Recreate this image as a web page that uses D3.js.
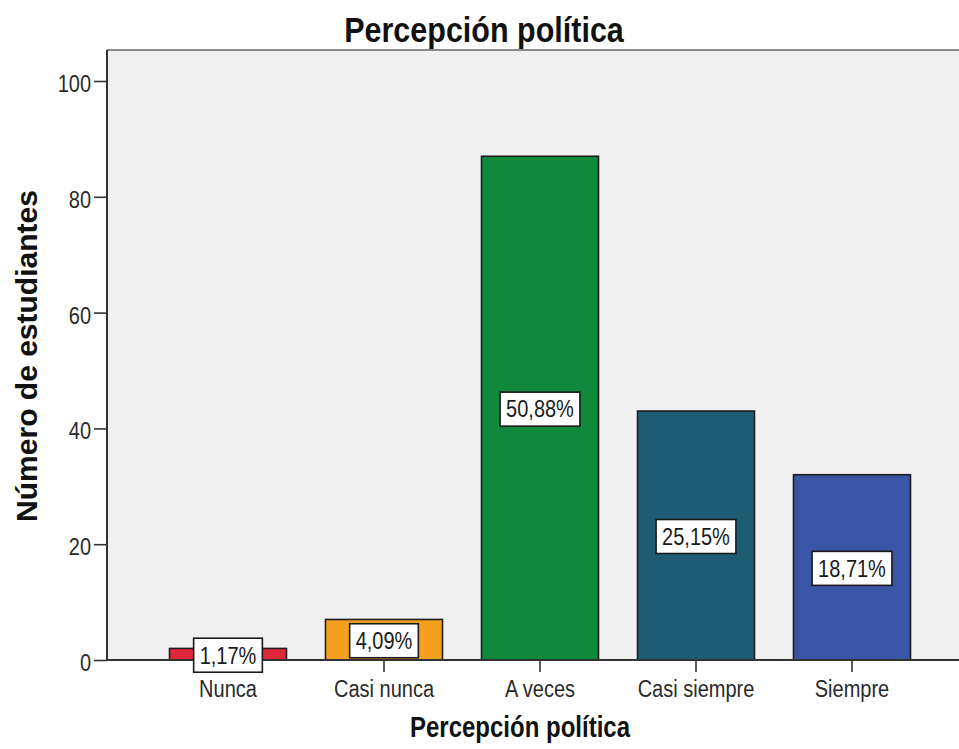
<!DOCTYPE html>
<html>
<head>
<meta charset="utf-8">
<script src="https://cdn.jsdelivr.net/npm/d3@7"></script>
<style>
  html, body { margin: 0; padding: 0; background: #ffffff; }
  svg { display: block; }
</style>
</head>
<body>
<svg id="chart" width="959" height="749"></svg>
<script>
const categories = ["Nunca", "Casi nunca", "A veces", "Casi siempre", "Siempre"];
const counts = [2, 7, 87, 43, 32];
const percentLabels = ["1,17%", "4,09%", "50,88%", "25,15%", "18,71%"];
const barColors = ["#e0283c", "#f5a01f", "#10893d", "#1c5d74", "#3a54a6"];
const yTicks = [0, 20, 40, 60, 80, 100];
const titleText = "Percepción política";
const xTitleText = "Percepción política";
const yTitleText = "Número de estudiantes";

const svg = d3.select("#chart");
const W = 959, H = 749;
const plot = { left: 107, right: 959, top: 50, bottom: 660 };
const SY = 1.15; // vertical stretch of text in the reference
const FONT = "'Liberation Sans', Arial, sans-serif";

const x = d3.scaleBand()
  .domain(categories)
  .range([150, 930])
  .paddingInner(0.25)
  .paddingOuter(0.125);

const y = d3.scaleLinear()
  .domain([0, 100])
  .range([plot.bottom, 81]);

// plot background
svg.append("rect")
  .attr("x", plot.left).attr("y", plot.top)
  .attr("width", plot.right - plot.left + 5)
  .attr("height", plot.bottom - plot.top)
  .attr("fill", "#f0f0f0");

// top frame line
svg.append("line")
  .attr("x1", plot.left).attr("x2", W + 5)
  .attr("y1", plot.top).attr("y2", plot.top)
  .attr("stroke", "#8a8a8a").attr("stroke-width", 2);

function stretchedText(g, tx, ty, str, opts) {
  const t = g.append("text")
    .attr("transform", `translate(${tx},${ty}) scale(1,${opts.sy || SY})`)
    .attr("font-family", FONT)
    .attr("font-size", opts.size)
    .attr("font-weight", opts.weight || "normal")
    .attr("text-anchor", opts.anchor || "middle")
    .attr("fill", opts.fill || "#222")
    .text(str);
  return t;
}

// bars
const bars = svg.append("g");
bars.selectAll("rect")
  .data(counts)
  .join("rect")
  .attr("x", (d, i) => x(categories[i]))
  .attr("y", d => y(d))
  .attr("width", x.bandwidth())
  .attr("height", d => y(0) - y(d))
  .attr("fill", (d, i) => barColors[i])
  .attr("stroke", "#1e1e1e")
  .attr("stroke-width", 1.6);

// y axis
const yAxis = d3.axisLeft(y).tickValues(yTicks).tickSize(13).tickFormat("");
const yg = svg.append("g").attr("transform", `translate(${plot.left},0)`).call(yAxis);
yg.select(".domain").remove();
yg.selectAll(".tick line").attr("stroke", "#333").attr("stroke-width", 1.6);
const ylab = svg.append("g");
yTicks.forEach(v => {
  stretchedText(ylab, 91, y(v) + 11, String(v), { size: 20, anchor: "end", fill: "#2a2a2a" });
});

// x axis
const xAxis = d3.axisBottom(x).tickSize(12).tickFormat("");
const xg = svg.append("g").attr("transform", `translate(0,${plot.bottom})`).call(xAxis);
xg.select(".domain").remove();
xg.selectAll(".tick line").attr("stroke", "#333").attr("stroke-width", 1.6);
const xlab = svg.append("g");
categories.forEach(c => {
  stretchedText(xlab, x(c) + x.bandwidth() / 2, 697, c, { size: 20, fill: "#2a2a2a" });
});

// axis lines
svg.append("line")
  .attr("x1", plot.left).attr("x2", plot.left)
  .attr("y1", plot.top).attr("y2", plot.bottom + 1)
  .attr("stroke", "#333").attr("stroke-width", 2);
svg.append("line")
  .attr("x1", plot.left - 1).attr("x2", W + 5)
  .attr("y1", plot.bottom).attr("y2", plot.bottom)
  .attr("stroke", "#333").attr("stroke-width", 2);

// percentage labels
const labs = svg.append("g");
counts.forEach((d, i) => {
  const cx = x(categories[i]) + x.bandwidth() / 2;
  const cy = (y(d) + y(0)) / 2 + 1;
  const t = stretchedText(labs, cx, cy + 8.3, percentLabels[i], { size: 20, fill: "#1a1a1a" });
  const w = t.node().getComputedTextLength() + 12;
  const h = 34;
  labs.insert("rect", () => t.node())
    .attr("x", cx - w / 2).attr("y", cy - h / 2)
    .attr("width", w).attr("height", h)
    .attr("fill", "#ffffff")
    .attr("stroke", "#1a1a1a").attr("stroke-width", 1.6);
});

// titles
stretchedText(svg, 484, 41.5, titleText, { size: 30.5, weight: "bold", sy: 1.12, fill: "#111" });
stretchedText(svg, 520, 737, xTitleText, { size: 24, weight: "bold", sy: 1.2, fill: "#111" });
svg.append("text")
  .attr("transform", `translate(37,356) rotate(-90)`)
  .attr("font-family", FONT)
  .attr("font-size", 30)
  .attr("font-weight", "bold")
  .attr("text-anchor", "middle")
  .attr("fill", "#111")
  .text(yTitleText);
</script>
</body>
</html>
